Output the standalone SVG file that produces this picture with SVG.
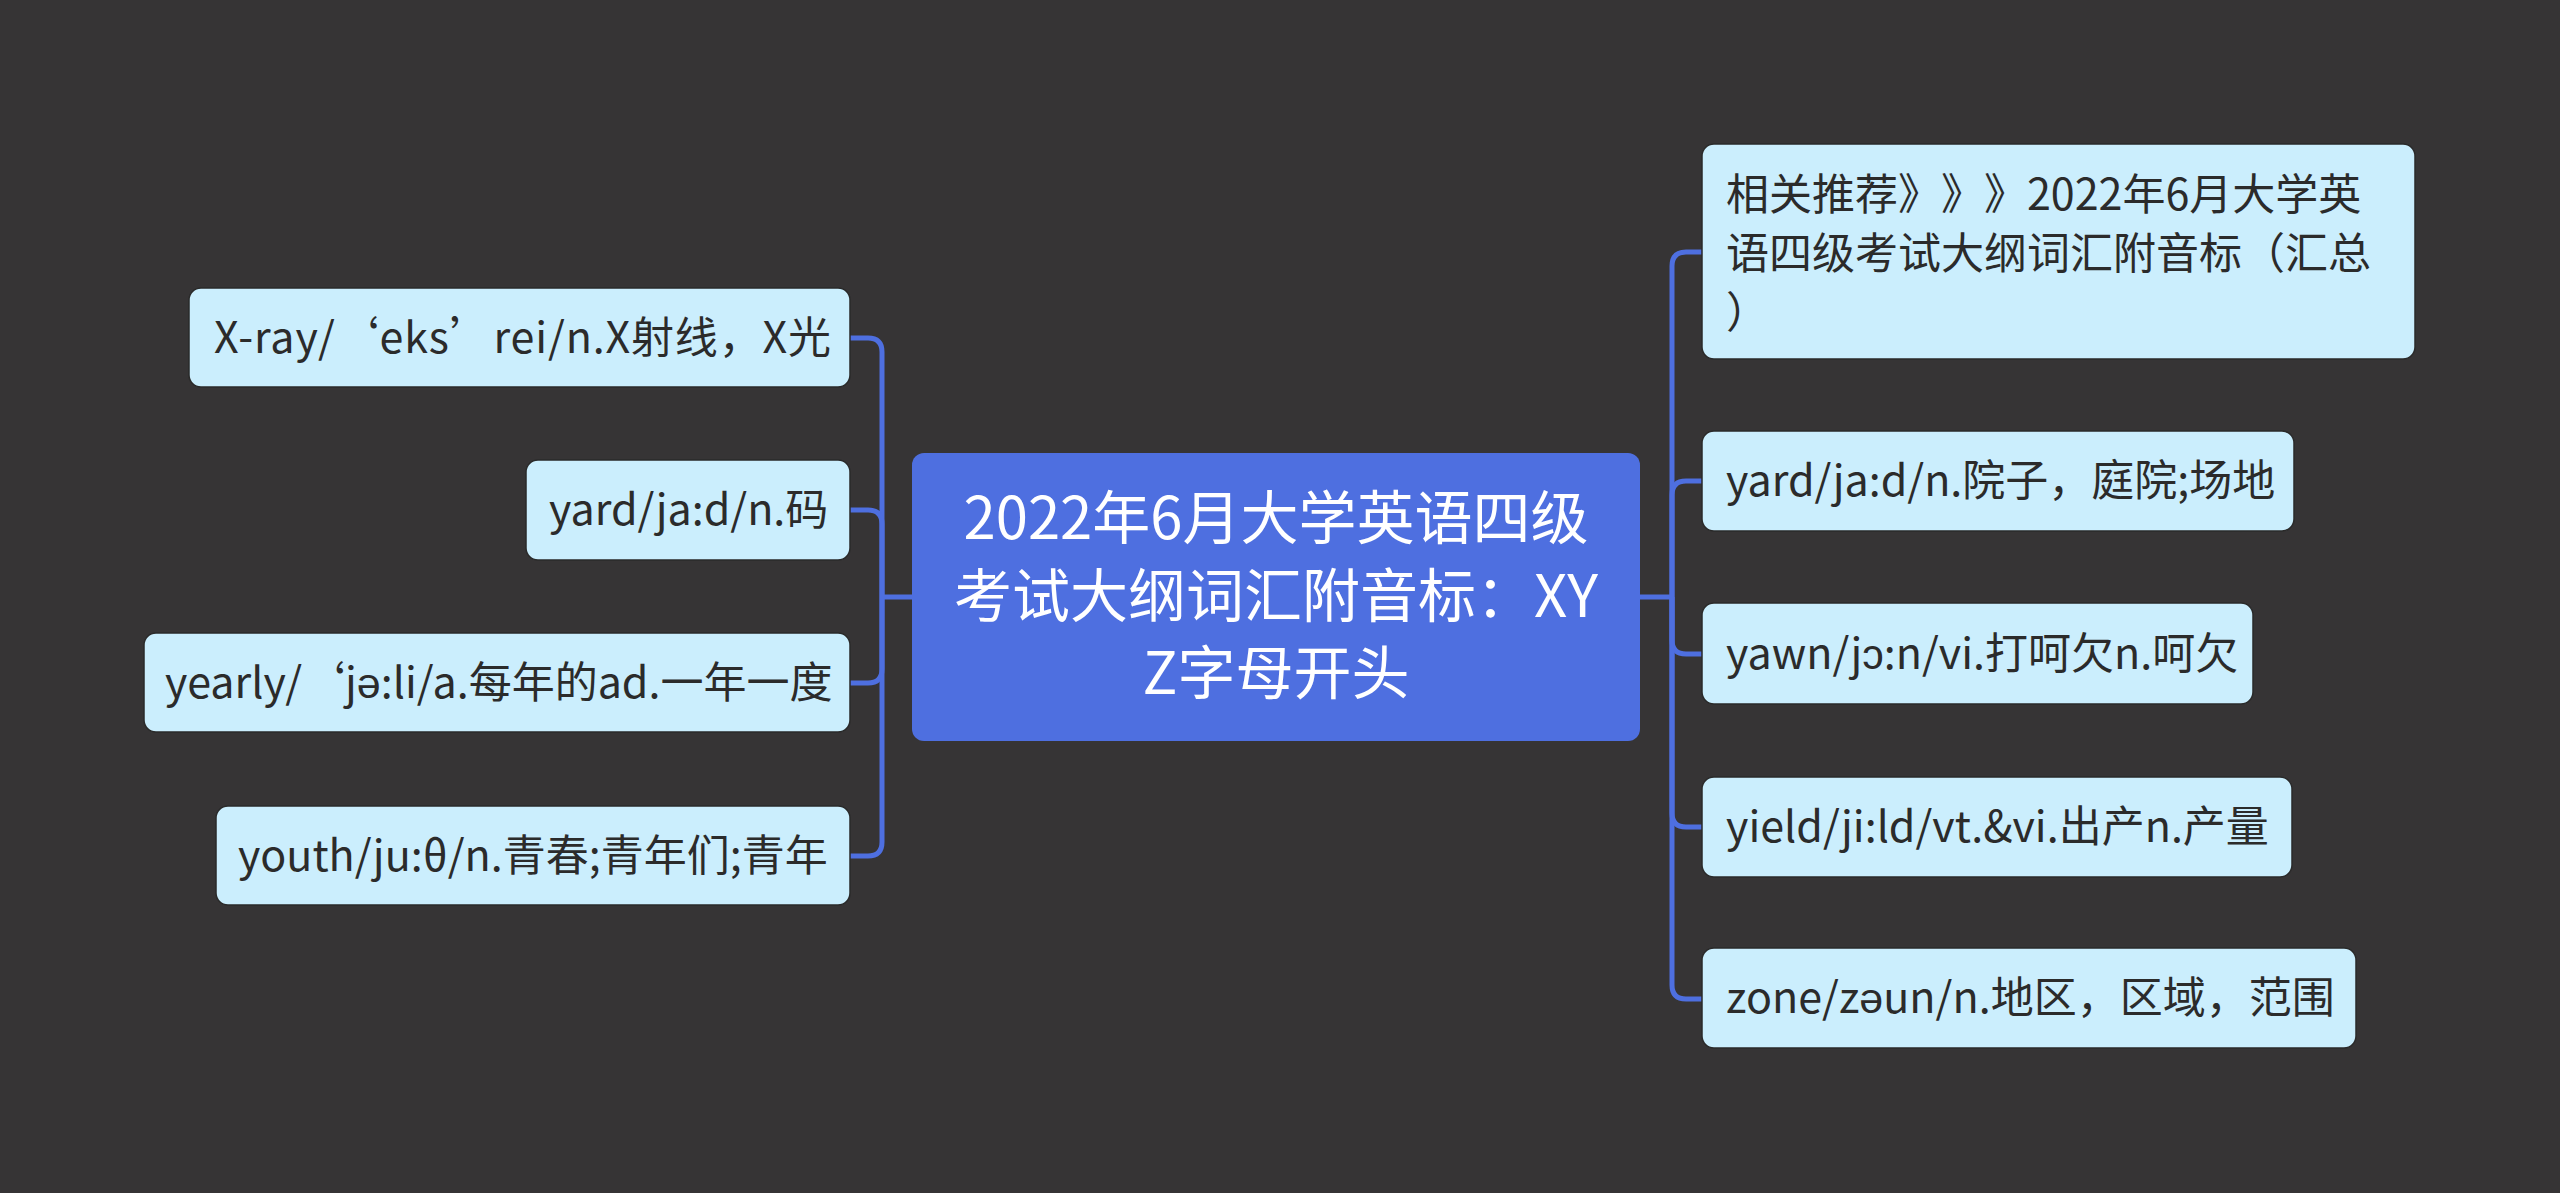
<svg xmlns="http://www.w3.org/2000/svg" width="2560" height="1193" viewBox="0 0 2560 1193">
<style>
text{text-spacing-trim:space-all}
.leaf rect{fill:#cbeefd;stroke:#2a2a2a;stroke-width:1.5}
.leaf text{font-family:"Noto Sans CJK SC","Microsoft YaHei",sans-serif;font-size:43px;fill:#2b2b2b}
.root rect{fill:#4e6fe0}
.root text{font-family:"Noto Sans CJK SC","Microsoft YaHei",sans-serif;font-size:58px;fill:#ffffff;text-anchor:middle}
.conn path{fill:none;stroke:#4e6fe0;stroke-width:5;stroke-linecap:butt}
</style>
<rect width="2560" height="1193" fill="#363435"/>
<g id="connectors" class="conn">
<path d="M913 597 H882"/>
<path d="M882 597 V352 Q882 338 868 338 H849"/>
<path d="M882 597 V524 Q882 510 868 510 H849"/>
<path d="M882 597 V669 Q882 683 868 683 H849"/>
<path d="M882 597 V842 Q882 856 868 856 H849"/>
<path d="M1639 597 H1672"/>
<path d="M1672 597 V266 Q1672 252 1686 252 H1703"/>
<path d="M1672 597 V495 Q1672 481 1686 481 H1703"/>
<path d="M1672 597 V640 Q1672 654 1686 654 H1703"/>
<path d="M1672 597 V813 Q1672 827 1686 827 H1703"/>
<path d="M1672 597 V985 Q1672 999 1686 999 H1703"/>
</g>
<g id="root" class="root">
<rect x="912" y="453" width="728" height="288" rx="12"/>
<text x="1276" y="539">2022年6月大学英语四级</text>
<text x="1276" y="617">考试大纲词汇附音标：XY</text>
<text x="1276" y="694">Z字母开头</text>
</g>
<g id="n-xray" class="leaf">
<rect x="189" y="288" width="661" height="99" rx="12"/>
<text x="214" y="353" textLength="617" lengthAdjust="spacing">X-ray/‘eks’rei/n.X射线，X光</text>
</g>
<g id="n-yard1" class="leaf">
<rect x="526" y="460" width="324" height="100" rx="12"/>
<text x="549" y="525">yard/ja:d/n.码</text>
</g>
<g id="n-yearly" class="leaf">
<rect x="144" y="633" width="706" height="99" rx="12"/>
<text x="165" y="698">yearly/‘jə:li/a.每年的ad.一年一度</text>
</g>
<g id="n-youth" class="leaf">
<rect x="216" y="806" width="634" height="99" rx="12"/>
<text x="238" y="871">youth/ju:θ/n.青春;青年们;青年</text>
</g>
<g id="n-related" class="leaf">
<rect x="1702" y="144" width="713" height="215" rx="12"/>
<text x="1726" y="210">相关推荐》》》2022年6月大学英</text>
<text x="1726" y="269">语四级考试大纲词汇附音标（汇总</text>
<text x="1726" y="328">）</text>
</g>
<g id="n-yard2" class="leaf">
<rect x="1702" y="431" width="592" height="100" rx="12"/>
<text x="1726" y="496">yard/ja:d/n.院子，庭院;场地</text>
</g>
<g id="n-yawn" class="leaf">
<rect x="1702" y="603" width="551" height="101" rx="12"/>
<text x="1726" y="669">yawn/jɔ:n/vi.打呵欠n.呵欠</text>
</g>
<g id="n-yield" class="leaf">
<rect x="1702" y="777" width="590" height="100" rx="12"/>
<text x="1726" y="842">yield/ji:ld/vt.&amp;vi.出产n.产量</text>
</g>
<g id="n-zone" class="leaf">
<rect x="1702" y="948" width="654" height="100" rx="12"/>
<text x="1726" y="1013">zone/zəun/n.地区，区域，范围</text>
</g>
</svg>
